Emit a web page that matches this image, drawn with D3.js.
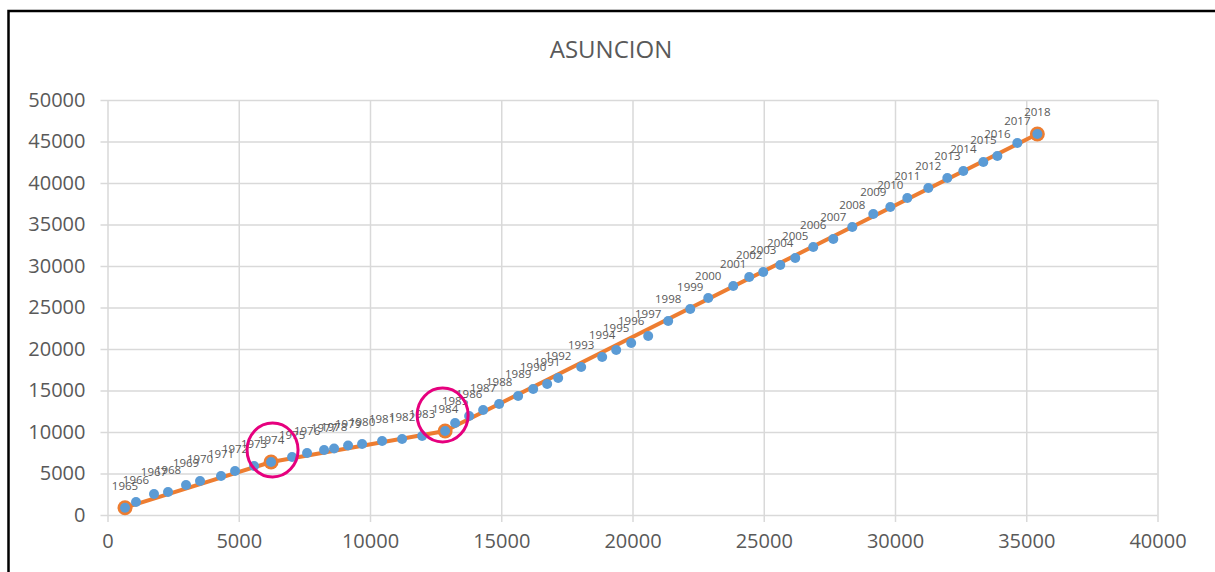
<!DOCTYPE html>
<html>
<head>
<meta charset="utf-8">
<script src="https://cdn.jsdelivr.net/npm/d3@7"></script>
<style>
  body { margin: 0; background: #fff; }
  text { font-family: "Open Sans", "DejaVu Sans", sans-serif; fill: #595959; }
</style>
</head>
<body>
<svg id="chart"></svg>
<script>
// data
const years = [1965, 1966, 1967, 1968, 1969, 1970, 1971, 1972, 1973, 1974,
  1975, 1976, 1977, 1978, 1979, 1980, 1981, 1982, 1983, 1984,
  1985, 1986, 1987, 1988, 1989, 1990, 1991, 1992, 1993, 1994,
  1995, 1996, 1997, 1998, 1999, 2000, 2001, 2002, 2003, 2004,
  2005, 2006, 2007, 2008, 2009, 2010, 2011, 2012, 2013, 2014,
  2015, 2016, 2017, 2018];
const xValues = [667, 1086, 1772, 2306, 2992, 3525, 4325, 4859, 5583, 6231,
  7031, 7603, 8251, 8632, 9165, 9699, 10461, 11223, 11986, 12862,
  13243, 13777, 14310, 14920, 15644, 16216, 16749, 17168, 18045, 18845,
  19379, 19950, 20598, 21360, 22199, 22885, 23838, 24447, 24981, 25629,
  26200, 26886, 27649, 28373, 29173, 29821, 30469, 31269, 31993, 32603,
  33365, 33899, 34661, 35423];
const yValues = [880, 1566, 2530, 2771, 3614, 4096, 4699, 5301, 5904, 6386,
  6988, 7470, 7831, 8012, 8373, 8554, 8916, 9157, 9518, 10120,
  11084, 11928, 12651, 13373, 14337, 15181, 15783, 16506, 17831, 19036,
  19880, 20723, 21566, 23373, 24819, 26145, 27590, 28675, 29277, 30120,
  30964, 32289, 33253, 34699, 36265, 37108, 38193, 39398, 40602, 41446,
  42530, 43253, 44819, 45904];

// years where the orange segments break
const breakYears = [1965, 1974, 1984, 2018];

// highlight circles (data coords)
const highlightX = [6288, 12767];
const highlightY = [7831, 12048];

const xTicks = [0, 5000, 10000, 15000, 20000, 25000, 30000, 35000, 40000];
const yTicks = [0, 5000, 10000, 15000, 20000, 25000, 30000, 35000, 40000, 45000, 50000];

const title = "ASUNCION";

// canvas
const W = 1215, H = 572;
const plot = { left: 107.5, right: 1157.5, top: 100, bottom: 515 };

const svg = d3.select("#chart").attr("width", W).attr("height", H);

const data = years.map((yr, i) => ({ year: yr, x: xValues[i], y: yValues[i] }));
const breaks = data.filter((d) => breakYears.includes(d.year));

// scales
const x = d3.scaleLinear().domain([0, 40000]).range([plot.left, plot.right]);
const y = d3.scaleLinear().domain([0, 50000]).range([plot.bottom, plot.top]);

// frame (cropped screenshot border)
svg.append("path")
  .attr("d", `M8.5,${H} V11 H${W}`)
  .attr("fill", "none")
  .attr("stroke", "#000")
  .attr("stroke-width", 2.5);

// title
svg.append("text")
  .attr("x", 611)
  .attr("y", 58)
  .attr("text-anchor", "middle")
  .style("font-size", "24px")
  .text(title);

// gridlines + axes
const gridColor = "#d9d9d9";

const xAxis = svg.append("g")
  .attr("transform", "translate(0," + plot.bottom + ")")
  .call(d3.axisBottom(x).tickValues(xTicks).tickSize(-(plot.bottom - plot.top)).tickPadding(14).tickFormat(d3.format("d")));
xAxis.select(".domain").remove();
xAxis.selectAll("line").attr("stroke", gridColor).attr("stroke-width", 1.5)
  .attr("y2", -(plot.bottom - plot.top)).attr("y1", 7);
xAxis.selectAll("text").style("font-size", "20px").attr("fill", "#595959").attr("dy", "0.95em");

const yAxis = svg.append("g")
  .attr("transform", "translate(" + plot.left + ",0)")
  .call(d3.axisLeft(y).tickValues(yTicks).tickSize(-(plot.right - plot.left)).tickPadding(22).tickFormat(d3.format("d")));
yAxis.select(".domain").remove();
yAxis.selectAll("line").attr("stroke", gridColor).attr("stroke-width", 1.5)
  .attr("x1", -7).attr("x2", plot.right - plot.left);
yAxis.selectAll("text").style("font-size", "20px").attr("fill", "#595959");

// orange segmented line with markers
const line = d3.line().x((d) => x(d.x)).y((d) => y(d.y));

svg.append("path")
  .datum(breaks)
  .attr("fill", "none")
  .attr("stroke", "#ed7d31")
  .attr("stroke-width", 4)
  .attr("stroke-linejoin", "round")
  .attr("d", line);

svg.selectAll(".brk")
  .data(breaks)
  .enter()
  .append("circle")
  .attr("class", "brk")
  .attr("cx", (d) => x(d.x))
  .attr("cy", (d) => y(d.y))
  .attr("r", 7.5)
  .attr("fill", "#ed7d31");

// blue points
svg.selectAll(".dot")
  .data(data)
  .enter()
  .append("circle")
  .attr("class", "dot")
  .attr("cx", (d) => x(d.x))
  .attr("cy", (d) => y(d.y))
  .attr("r", 5)
  .attr("fill", "#5b9bd5");

// year labels (they overlap in the original too)
svg.selectAll(".lbl")
  .data(data)
  .enter()
  .append("text")
  .attr("class", "lbl")
  .attr("x", (d) => x(d.x))
  .attr("y", (d) => y(d.y) - 18)
  .attr("text-anchor", "middle")
  .style("font-size", "11.5px")
  .text((d) => d.year);

// pink highlight circles
svg.selectAll(".hl")
  .data(highlightX)
  .enter()
  .append("ellipse")
  .attr("class", "hl")
  .attr("cx", (d) => x(d))
  .attr("cy", (d, i) => y(highlightY[i]))
  .attr("rx", 25.5)
  .attr("ry", 27)
  .attr("fill", "none")
  .attr("stroke", "#e6007e")
  .attr("stroke-width", 3);
</script>
</body>
</html>
